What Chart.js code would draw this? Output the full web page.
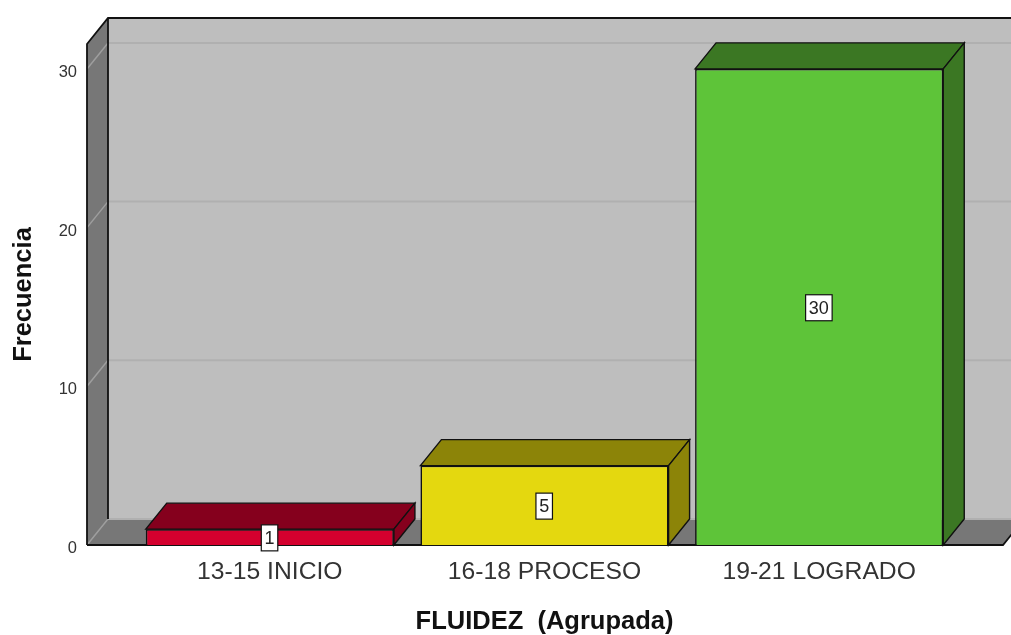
<!DOCTYPE html>
<html>
<head>
<meta charset="utf-8">
<style>html,body{margin:0;padding:0;background:#fff}canvas{display:block}</style>
<script src="https://cdn.jsdelivr.net/npm/chart.js@4"></script>
</head>
<body>
<canvas id="c" width="1011" height="635"></canvas>
<script>
const categories = ['13-15 INICIO', '16-18 PROCESO', '19-21 LOGRADO'];
const frequencies = [1, 5, 30];
const yTicks = [0, 10, 20, 30];
const frontColors = ['#D4002E', '#E4D80F', '#5EC439'];
const sideColors = ['#85001D', '#8C8408', '#3B7723'];
const axisTitleX = 'FLUIDEZ  (Agrupada)';
const axisTitleY = 'Frecuencia';

const DX = 21, DY = -26;
const FONT = '"Liberation Sans", Arial, sans-serif';

function poly(ctx, pts, fill, stroke, lw) {
  ctx.beginPath();
  pts.forEach((p, i) => i ? ctx.lineTo(p[0], p[1]) : ctx.moveTo(p[0], p[1]));
  ctx.closePath();
  if (fill) { ctx.fillStyle = fill; ctx.fill(); }
  if (stroke) { ctx.strokeStyle = stroke; ctx.lineWidth = lw || 1; ctx.stroke(); }
}

const box3d = {
  id: 'box3d',
  beforeDraw(chart) {
    const ctx = chart.ctx, y = chart.scales.y;
    const L = 87, R = 1003, W = chart.width;
    const b = y.getPixelForValue(0), t = y.getPixelForValue(y.max);
    ctx.save();
    poly(ctx, [[L + DX, t + DY], [W + 5, t + DY], [W + 5, b + DY], [L + DX, b + DY]], '#BEBEBE');
    poly(ctx, [[L, t], [L + DX, t + DY], [L + DX, b + DY], [L, b]], '#777777');
    poly(ctx, [[L, b], [L + DX, b + DY], [R + DX, b + DY], [R, b]], '#777777');
    yTicks.forEach(v => {
      const p = y.getPixelForValue(v);
      ctx.beginPath(); ctx.moveTo(L, p); ctx.lineTo(L + DX, p + DY);
      ctx.strokeStyle = '#9E9E9E'; ctx.lineWidth = 1.5; ctx.stroke();
      ctx.beginPath(); ctx.moveTo(L + DX, p + DY); ctx.lineTo(W, p + DY);
      ctx.strokeStyle = '#B0B0B0'; ctx.lineWidth = 2; ctx.stroke();
    });
    ctx.strokeStyle = '#111'; ctx.lineWidth = 1.8;
    ctx.beginPath();
    ctx.moveTo(L, b); ctx.lineTo(L, t); ctx.lineTo(L + DX, t + DY); ctx.lineTo(W, t + DY);
    ctx.moveTo(L + DX, t + DY); ctx.lineTo(L + DX, b + DY);
    ctx.moveTo(L, b); ctx.lineTo(R, b); ctx.lineTo(R + DX, b + DY);
    ctx.stroke();
    ctx.restore();
  },
  beforeDatasetsDraw(chart) {
    const ctx = chart.ctx;
    chart.getDatasetMeta(0).data.forEach((bar, i) => {
      const l = bar.x - bar.width / 2, r = bar.x + bar.width / 2, t = bar.y, b = bar.base;
      poly(ctx, [[l, t], [l + DX, t + DY], [r + DX, t + DY], [r, t]], sideColors[i], '#111', 1.4);
      poly(ctx, [[r, t], [r + DX, t + DY], [r + DX, b + DY], [r, b]], sideColors[i], '#111', 1.4);
    });
  },
  afterDatasetsDraw(chart) {
    const ctx = chart.ctx, y = chart.scales.y;
    ctx.save();
    ctx.font = '18px ' + FONT;
    ctx.textAlign = 'center';
    ctx.textBaseline = 'middle';
    chart.getDatasetMeta(0).data.forEach((bar, i) => {
      const v = frequencies[i], txt = String(v);
      const cy = y.getPixelForValue(v / 2) + 0.8, cx = bar.x - 0.3;
      const w = ctx.measureText(txt).width + 6.5, h = 26;
      ctx.fillStyle = '#fff'; ctx.strokeStyle = '#111'; ctx.lineWidth = 1.2;
      ctx.fillRect(cx - w / 2, cy - h / 2, w, h);
      ctx.strokeRect(cx - w / 2, cy - h / 2, w, h);
      ctx.fillStyle = '#222';
      ctx.fillText(txt, cx, cy + 1);
    });
    ctx.restore();
  }
};

new Chart(document.getElementById('c'), {
  type: 'bar',
  data: {
    labels: categories,
    datasets: [{
      data: frequencies,
      backgroundColor: frontColors,
      borderColor: '#111',
      borderWidth: 1.6,
      barPercentage: 0.9035,
      categoryPercentage: 1
    }]
  },
  plugins: [box3d],
  options: {
    responsive: false,
    animation: false,
    layout: { padding: { top: 44, right: 54.5, left: 0, bottom: 0 } },
    plugins: { legend: { display: false }, title: { display: false }, tooltip: { enabled: false } },
    scales: {
      x: {
        grid: { display: false, drawTicks: false },
        border: { display: false },
        ticks: { color: '#333', font: { family: FONT, size: 24.7 }, padding: 12, maxRotation: 0 },
        title: { display: true, text: axisTitleX, color: '#111', font: { family: FONT, size: 25.5, weight: 'bold' }, padding: { top: 18, bottom: -2 } },
        afterFit(s) { s.height = 90; s.paddingRight = 0; s.paddingLeft = 0; }
      },
      y: {
        min: 0,
        max: 31.57,
        grid: { display: false, drawTicks: false },
        border: { display: false },
        afterBuildTicks(s) { s.ticks = yTicks.map(v => ({ value: v })); },
        ticks: {
          color: '#333',
          font: { family: FONT, size: 16.5, lineHeight: 0.42 },
          padding: 55.5,
          callback: v => ['', String(v)]
        },
        title: { display: true, text: axisTitleY, color: '#111', font: { family: FONT, size: 25.5, weight: 'bold' }, padding: { top: 9, bottom: 0 } },
        afterFit(s) { s.width = 132.5; s.paddingTop = 0; s.paddingBottom = 0; }
      }
    }
  }
});
</script>
</body>
</html>
